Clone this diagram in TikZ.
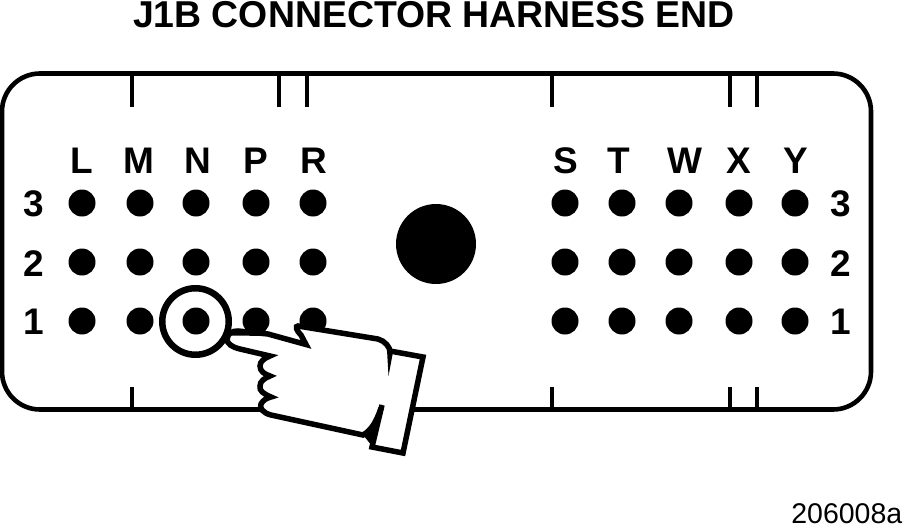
\documentclass[tikz,border=0pt]{standalone}
\usepackage{fontspec}
\setmainfont{Liberation Sans}
\begin{document}
\begin{tikzpicture}[x=1pt,y=-1pt,
  pin/.style={circle,fill=black,draw=none,minimum size=27pt,inner sep=0pt},
  hole/.style={circle,fill=black,draw=none,minimum size=80pt,inner sep=0pt},
  ring/.style={circle,draw=black,line width=6.5pt,minimum size=66.5pt,inner sep=0pt},
  lab/.style={font=\bfseries\fontsize{37}{37}\selectfont,inner sep=0pt,anchor=center,text height=26.5pt,text depth=0pt},
  shell/.style={draw=black,line width=4.6pt,rounded corners=38pt},
  tick/.style={draw=black,line width=4.5pt},
  handline/.style={draw=black,line width=5.5pt,line join=miter,miter limit=12}]
\useasboundingbox (0,0) rectangle (904,525);
\fill[white] (0,0) rectangle (904,525);
\node[font=\bfseries\fontsize{37.4}{38}\selectfont,inner sep=0pt,text height=26.8pt,text depth=0pt] (title) at (434,14.5) {J1B CONNECTOR HARNESS END};
\draw[shell] (2,73.5) rectangle (871,409.5);
\foreach \x in {132,279,307,552,730,757} \draw[tick] (\x,73) -- (\x,107);
\foreach \x in {132,552,730,757} \draw[tick] (\x,387) -- (\x,409);
\foreach \n/\x/\t in {L/82/L,M/139/M,N/198/N,P/256/P,R/314/R,S/566/S,T/619/T,W/685/W,X/739/X,Y/796/Y}
  \node[lab] (col\n) at (\x,160) {\t};
\foreach \r/\y/\ty in {3/203/203,2/262/263,1/321/321}{
  \node[lab] (left\r) at (34,\ty) {\r};
  \node[lab] (right\r) at (841,\ty) {\r};
  \foreach \n/\x in {L/82,M/140,N/196,P/256,R/313,S/565,T/622,W/679,X/739,Y/795}
    \node[pin] (p\n\r) at (\x,\y) {};
}
\node[hole] (hole) at (436,244) {};
% hand: white body
\fill[white] (227,339) -- (238,331) -- (268,333) -- (313,347) -- (297,326) -- (378,339)
  -- (392,352) -- (423,357) -- (403,453) -- (372,447) -- (376,432) -- (363,435) -- (271,415)
  -- (260,404) -- (260,366) -- (275,356) -- (240,349) -- cycle;
% hand: outline, from the cuff crease under the wrist round to the crease above it
\draw[handline] (381,408) .. controls (377,420) and (372,430) .. (363,435) -- (271,415)
  .. controls (263,413) and (259,408) .. (261,404) .. controls (263,400) and (267,398) .. (271,397)
  .. controls (264,394) and (259,391) .. (260,386) .. controls (260,381) and (265,378) .. (270,376)
  .. controls (264,374) and (260,371) .. (260,366) .. controls (260,361) and (265,358) .. (270,356)
  -- (240,349) .. controls (232,347) and (227,344) .. (227,339)
  .. controls (228,333) and (232,331) .. (238,331) -- (268,334) -- (306,344.5)
  -- (301,335) .. controls (296,330) and (295,326) .. (298,326) -- (378,339)
  .. controls (385,341) and (390,347) .. (390,352);
% cuff
\draw[handline] (382,405) -- (372,447) -- (403,453) -- (423,357) -- (390,351);
% creases
\fill[black] (387,350) -- (393,352) -- (388.5,376) -- cycle;
\fill[black] (364,436) .. controls (372,430) and (378,420) .. (382,404) -- (372,446) -- cycle;
% thick upper edge of the finger
\fill[black] (232,329) -- (268,332) -- (268,336) -- (232,335.5) -- cycle;
\node[ring] (ring) at (195.5,321.5) {};
\node[font=\fontsize{28.5}{29}\selectfont,inner sep=0pt,anchor=east] (code) at (902.5,513.5) {206008a};
\end{tikzpicture}
\end{document}
